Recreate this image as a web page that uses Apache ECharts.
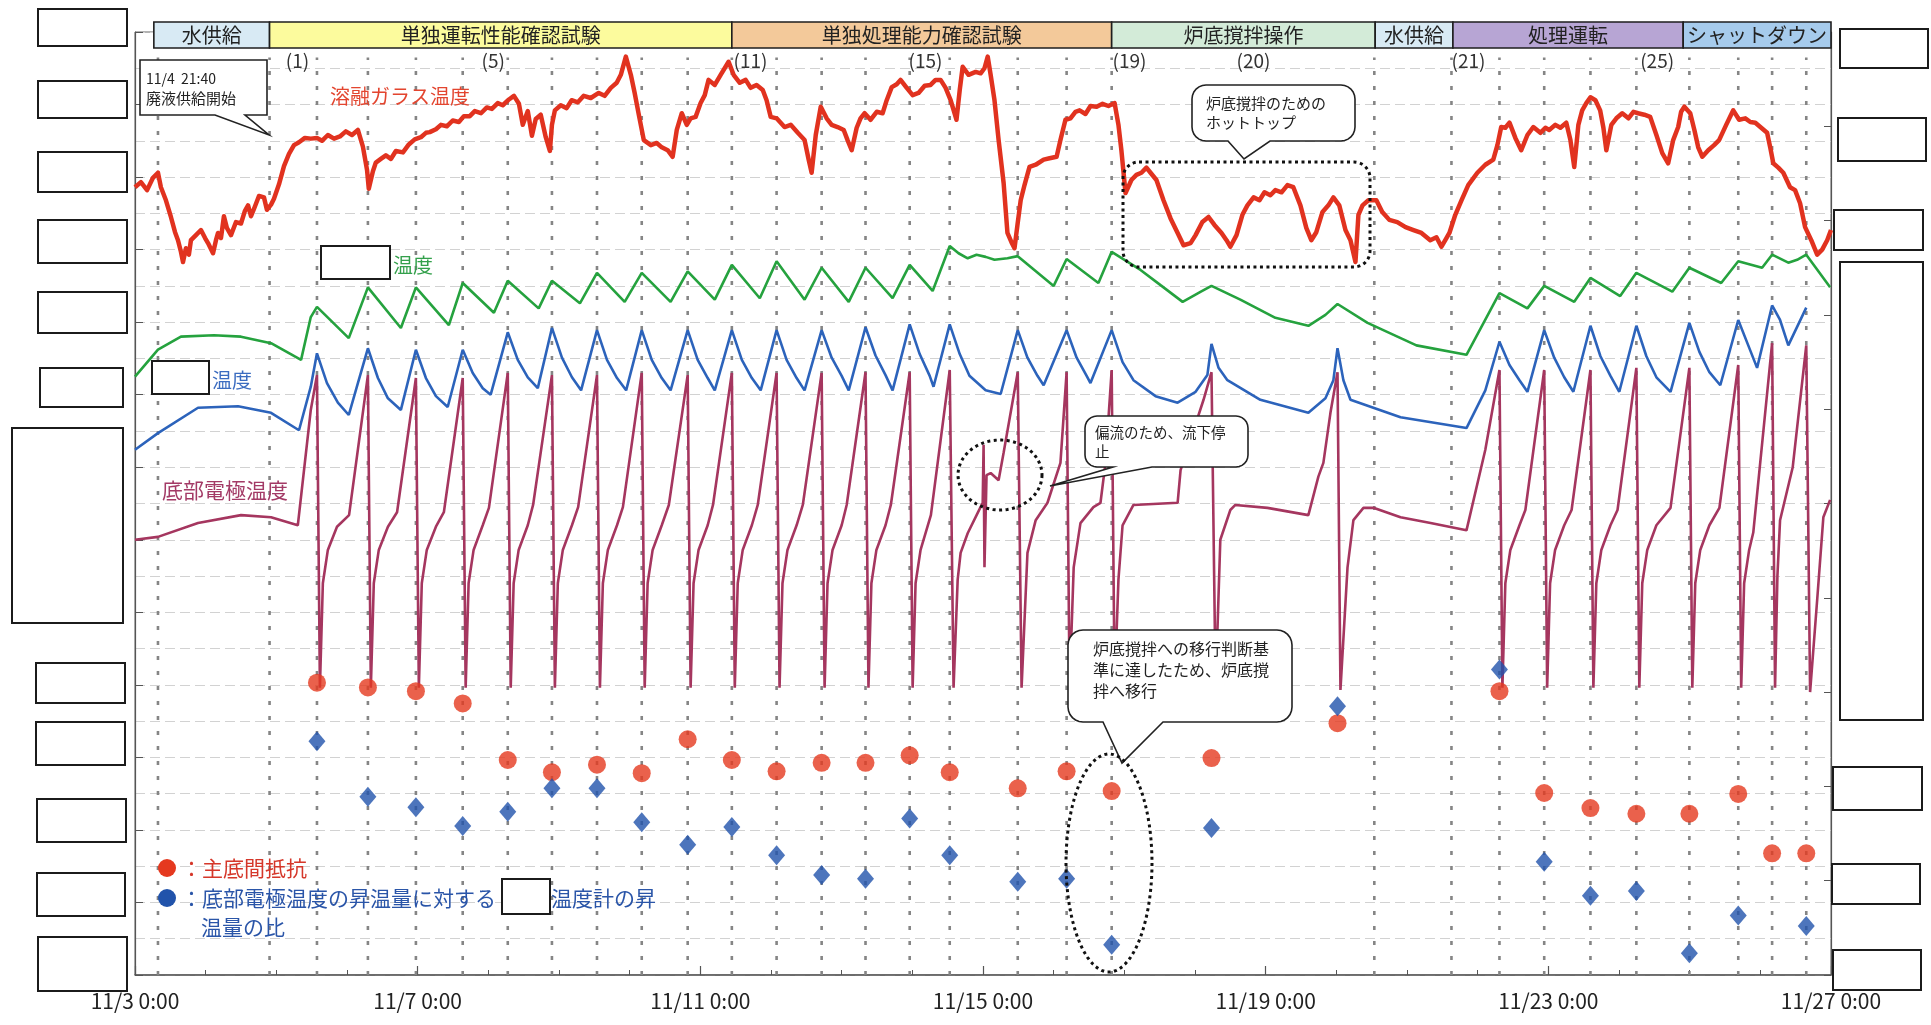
<!DOCTYPE html>
<html lang="ja">
<head>
<meta charset="utf-8">
<title>溶融ガラス温度・底部電極温度の推移</title>
<script src="https://cdn.jsdelivr.net/npm/echarts@6/dist/echarts.min.js"></script>
<style>
  html, body { margin: 0; padding: 0; background: #fff; }
  #chart { width: 1931px; height: 1025px; }
</style>
</head>
<body>
<div id="chart"></div>
<script>
// ---- Data (x values are hours counted from 11/3 0:00) ----
const X_MAX_HOURS = 576;          // 11/27 0:00
const X_TICK_HOURS = 96;          // 4 days between date labels

const PHASE_NAMES = ['水供給', '単独運転性能確認試験', '単独処理能力確認試験', '炉底撹拌操作', '水供給', '処理運転', 'シャットダウン'];
const PHASE_START_H = [6.4, 45.7, 202.7, 331.7, 421.2, 447.6, 525.8];
const PHASE_END_H   = [45.7, 202.7, 331.7, 421.2, 447.6, 525.8, 576];

const RUN_LABELS = ['(1)', '(5)', '(11)', '(15)', '(19)', '(20)', '(21)', '(25)'];
const RUN_LABEL_H = [51.2, 117.7, 203.3, 262.7, 332.0, 374.1, 447.1, 511.2];

// vertical guide lines (feed start and each pouring)
const GUIDE_HOURS = [7.8, 45.7, 61.8, 79.1, 95.4, 111.3, 126.6, 141.6, 156.9, 172.1, 187.7, 202.7,
  217.9, 233.2, 248.1, 263.1, 276.7, 299.8, 316.4, 331.7, 420.9, 447.1, 463.4, 478.6, 494.3,
  509.9, 527.9, 544.5, 556.0, 567.6];
const GUIDE_TOP = 126.5;

// pouring events with the two evaluated indices (right axis)
const EVENT_HOURS = [61.8, 79.1, 95.4, 111.3, 126.6, 141.6, 156.9, 172.1, 187.7, 202.7, 217.9, 233.2,
  248.1, 263.1, 276.7, 299.8, 316.4, 331.7, 365.6, 408.4, 463.4, 478.6, 494.3, 509.9, 527.9,
  544.5, 556.0, 567.6];
const MAIN_BOTTOM_RESISTANCE = [3.10, 3.05, 3.01, 2.88, 2.28, 2.15, 2.23, 2.14, 2.50, 2.28, 2.16, 2.25,
  2.25, 2.33, 2.15, 1.98, 2.16, 1.95, 2.30, 2.67, 3.01, 1.93, 1.77, 1.71, 1.71, 1.92, 1.29, 1.29];
const TEMP_RISE_RATIO = [2.48, 1.89, 1.78, 1.58, 1.73, 1.98, 1.98, 1.62, 1.38, 1.57, 1.27, 1.06,
  1.02, 1.66, 1.27, 0.99, 1.02, 0.32, 1.56, 2.85, 3.24, 1.20, 0.84, 0.89, 0.23, 0.63, null, 0.52];

// 溶融ガラス温度
const MELT_GLASS_TEMP = [[0,108.6],[2.0,109.3],[4.1,108.2],[6.1,109.9],[7.8,110.6],[8.8,108.6],[10.5,106.8],[12.2,104.5],[13.6,102.4],[14.6,101.3],[15.6,99.7],[16.3,98.3],[17.3,100.2],[18.3,99.3],[19.0,101.3],[20.7,102.0],[22.4,102.7],[23.8,101.6],[24.8,100.9],[26.5,99.5],[27.5,101.3],[28.2,102.3],[29.2,101.6],[30.2,104.6],[31.2,103.0],[32.6,102.0],[34.3,103.8],[36.0,103.6],[37.3,105.3],[38.4,106.1],[39.4,104.6],[40.4,105.6],[42.1,107.4],[43.8,107.2],[44.8,105.5],[46.2,106.2],[47.2,107.0],[48.9,109.0],[50.6,111.5],[52.3,113.2],[54.0,114.4],[55.7,114.8],[57.7,115.4],[59.7,115.3],[61.8,115.4],[63.5,115.0],[65.5,115.8],[67.6,115.3],[69.6,115.6],[71.6,116.3],[73.7,115.8],[75.7,116.5],[77.4,114.2],[78.8,111.0],[79.4,108.4],[80.8,110.8],[81.8,112.0],[83.5,112.5],[85.2,113.0],[86.9,112.5],[88.6,113.6],[91.0,113.4],[93.0,114.5],[95.0,115.2],[97.1,115.5],[98.8,116.1],[100.1,116.2],[102.2,116.6],[103.9,117.2],[105.9,117.0],[107.9,117.8],[110.0,117.6],[111.7,118.4],[113.7,118.4],[115.4,119.1],[117.5,118.8],[119.5,119.6],[121.2,119.4],[123.2,120.2],[124.9,119.9],[127.0,120.7],[128.7,121.2],[130.4,120.1],[131.7,117.2],[133.4,119.1],[134.8,115.7],[136.1,118.0],[137.8,118.6],[139.5,115.5],[140.9,113.6],[141.6,117.2],[142.6,119.2],[144.6,119.9],[146.6,119.5],[148.3,120.6],[150.4,120.3],[152.4,121.2],[154.8,120.9],[157.5,121.6],[159.5,121.2],[161.6,122.3],[163.6,123.0],[165.0,124.1],[166.7,126.6],[168.4,124.1],[169.7,121.6],[171.1,118.6],[172.8,115.1],[175.2,114.4],[177.2,114.7],[178.9,114.1],[180.9,113.7],[182.6,112.8],[184.0,116.5],[185.7,118.8],[187.4,117.2],[188.7,118.1],[190.4,118.3],[192.1,120.2],[193.5,121.3],[194.8,123.4],[196.9,122.7],[198.9,124.1],[201.6,125.9],[203.3,124.1],[205.4,123.0],[207.4,123.4],[209.1,122.3],[211.1,122.7],[213.2,122.0],[214.5,120.6],[215.9,118.3],[217.9,118.1],[220.6,116.9],[222.7,117.2],[225.1,116.1],[227.4,115.1],[228.8,112.4],[229.8,110.6],[231.2,115.8],[232.9,119.7],[234.9,118.1],[236.6,117.2],[238.6,116.9],[240.7,116.5],[242.0,115.1],[243.4,113.7],[245.1,116.8],[246.4,118.1],[247.8,118.8],[249.8,117.9],[251.9,119.0],[253.9,118.8],[255.3,120.6],[257.0,122.4],[258.7,122.8],[260.0,123.4],[262.1,122.3],[264.1,121.3],[266.1,121.6],[268.2,122.6],[270.2,122.7],[271.9,123.4],[273.6,123.4],[275.3,122.3],[277.0,120.6],[279.0,117.9],[280.1,122.0],[281.1,125.2],[283.1,124.1],[285.5,124.5],[287.2,124.3],[288.5,125.0],[289.6,126.6],[290.6,124.1],[291.9,120.6],[293.3,115.1],[295.0,109.2],[296.3,102.3],[297.7,101.0],[298.7,100.2],[299.7,103.4],[300.8,106.8],[302.1,108.9],[303.8,111.4],[305.9,111.7],[308.6,112.4],[310.6,112.6],[313.0,112.8],[314.3,115.1],[316.0,117.9],[317.7,118.1],[319.4,119.0],[320.8,119.2],[322.8,118.7],[324.5,119.8],[326.6,119.7],[328.6,120.1],[330.6,119.8],[332.7,120.2],[334.0,117.2],[335.0,113.7],[336.4,107.8],[338.4,109.6],[340.1,110.3],[341.8,110.6],[343.5,111.3],[344.9,110.6],[346.9,109.6],[349.3,106.8],[351.7,104.3],[354.1,102.3],[356.1,100.6],[358.5,100.9],[360.2,102.0],[362.5,103.8],[364.6,104.5],[366.6,103.4],[369.0,102.3],[370.7,101.3],[372.0,100.4],[374.1,102.0],[376.1,104.8],[377.8,106.1],[379.9,107.2],[381.9,106.8],[383.6,107.9],[385.6,107.5],[387.3,108.2],[389.4,107.9],[391.4,108.9],[393.4,108.6],[395.8,106.1],[397.8,103.0],[399.5,101.3],[401.2,102.4],[403.3,105.2],[405.3,106.1],[407.0,107.2],[409.0,106.1],[411.1,102.7],[412.8,101.3],[414.5,98.3],[415.5,104.8],[416.9,106.1],[418.9,106.8],[421.6,106.8],[423.6,105.2],[426.0,104.1],[428.7,103.8],[431.5,103.1],[434.2,102.7],[436.9,102.3],[439.9,101.3],[442.0,101.7],[443.7,100.4],[445.0,101.3],[446.4,102.3],[448.4,104.8],[450.5,106.8],[452.8,108.9],[455.9,110.6],[458.6,111.7],[461.3,112.4],[462.7,114.4],[464.0,116.9],[465.4,116.8],[466.8,117.5],[468.8,115.4],[470.8,113.7],[472.9,115.8],[474.9,116.9],[477.3,116.1],[479.0,116.8],[480.3,116.5],[482.4,117.2],[484.1,116.8],[486.1,117.5],[487.5,115.1],[488.8,111.4],[490.2,117.2],[491.5,119.2],[492.9,120.2],[494.3,121.0],[496.0,120.6],[497.6,119.2],[498.7,116.8],[499.7,113.7],[501.4,117.2],[503.1,118.1],[505.1,118.8],[507.2,118.1],[508.9,119.0],[510.5,118.8],[512.6,118.6],[514.6,118.3],[516.7,115.8],[518.7,113.3],[520.7,111.9],[522.4,115.1],[524.1,116.9],[525.1,119.0],[526.2,119.7],[528.2,118.8],[529.6,116.5],[530.9,114.1],[532.3,112.8],[534.3,113.7],[536.3,114.4],[538.0,115.1],[540.4,117.2],[542.8,119.2],[544.8,117.9],[546.9,118.1],[548.6,117.6],[550.3,117.5],[552.3,116.8],[554.3,116.1],[555.4,114.0],[556.4,111.9],[558.1,111.3],[559.8,110.6],[562.1,108.6],[563.8,108.2],[565.5,106.4],[567.2,103.1],[569.3,101.3],[571.3,99.3],[573.0,100.0],[574.7,101.3],[576.0,102.7]];

// 温度 (green trace)
const GREEN_TEMP = [[0,82.5],[7.8,86.2],[15.6,88.0],[26.8,88.2],[36.0,88.0],[46.2,87.1],[56.4,84.8],[59.7,90.7],[61.8,92.1],
  [72.6,87.8],[79.1,94.8],[90.3,89.2],[95.4,94.8],[106.6,89.6],[111.3,95.4],[121.9,91.3],[126.6,95.7],
  [137.1,91.9],[141.6,95.7],[151.1,92.6],[156.9,96.8],[166.3,92.8],[172.1,96.8],[181.9,92.8],[187.7,97.0],
  [196.9,93.1],[202.7,97.9],[212.2,93.3],[217.9,98.4],[227.4,93.1],[233.2,97.5],[242.4,92.8],[248.1,97.5],
  [257.3,93.3],[263.1,97.9],[270.9,94.3],[276.7,100.5],[279.7,99.5],[282.8,98.8],[285.8,99.3],[288.9,99.0],
  [291.9,98.6],[296.3,98.8],[299.8,99.1],[312.0,95.0],[316.4,98.7],[327.2,95.4],[331.7,99.7],
  [341.5,97.2],[348.3,95.1],[355.8,92.8],[362.0,94.2],[365.6,95.0],[375.4,93.1],[387.3,90.6],[398.5,89.5],
  [404.3,91.0],[408.4,92.5],[418.6,89.9],[435.2,86.8],[452.2,85.5],[457.6,89.6],[463.4,94.0],
  [472.9,91.9],[478.6,95.0],[488.8,92.8],[494.3,96.1],[504.4,93.6],[509.9,96.8],[522.1,94.2],[527.9,97.5],
  [538.7,95.4],[544.5,98.4],[552.6,97.5],[556.0,99.3],[561.5,98.2],[564.5,98.6],[567.6,99.3],[575.7,94.8]];

// 温度 (blue trace)
const BLUE_TEMP = [[0,72.4],[7.8,74.7],[21.4,78.2],[35.0,78.4],[46.2,77.5],[55.7,75.1],[59.7,81.1],[61.8,85.7],
  [65.2,81.6],[68.9,78.9],[72.6,77.2],[75.7,81.6],[79.1,86.4],[82.5,82.3],[85.9,79.5],[90.3,77.9],[95.4,86.2],
  [98.8,82.3],[102.2,79.8],[106.2,78.3],[111.3,86.2],[114.7,83.0],[118.1,80.9],[120.8,80.0],[126.6,88.6],
  [130.0,84.8],[133.4,82.4],[136.8,80.9],[141.6,89.2],[145.0,85.1],[148.4,82.4],[151.5,80.6],[156.9,88.9],
  [160.3,84.8],[163.7,82.3],[166.8,80.6],[172.1,88.9],[175.5,84.8],[178.9,82.3],[181.9,80.6],[187.7,88.9],
  [191.1,84.8],[194.5,82.3],[196.9,80.6],[202.7,88.9],[206.1,84.8],[209.5,82.3],[212.5,80.6],[217.9,88.9],
  [221.3,84.8],[224.7,82.3],[227.4,80.6],[233.2,88.9],[236.6,85.1],[240.0,82.6],[242.4,80.6],[248.1,89.3],
  [251.5,85.4],[254.9,82.7],[257.3,80.6],[263.1,89.7],[266.5,85.6],[269.9,82.6],[271.2,81.1],[276.7,89.7],
  [280.1,85.6],[283.4,82.6],[288.9,80.6],[294.0,80.1],[299.8,88.9],[303.1,85.1],[306.5,82.6],[308.6,81.3],[316.4,88.9],
  [319.8,85.1],[323.2,82.6],[324.5,81.6],[331.7,88.9],[335.4,84.5],[339.1,82.0],[346.6,79.8],[354.1,78.9],
  [360.2,80.4],[364.2,82.7],[365.6,87.0],[368.0,83.7],[371.0,82.0],[382.2,79.3],[398.5,77.5],[404.3,79.5],
  [407.0,82.0],[408.4,86.4],[410.4,82.0],[412.8,79.3],[429.8,76.9],[452.2,75.4],[458.6,80.6],[463.4,87.3],
  [466.8,84.1],[470.2,82.0],[472.9,80.4],[478.6,88.9],[482.0,85.1],[485.4,82.4],[488.5,80.4],[494.3,89.5],
  [497.7,85.3],[501.1,82.6],[504.1,80.4],[509.9,89.5],[513.3,85.3],[516.7,82.4],[521.5,80.4],[527.9,89.9],
  [531.3,85.9],[534.7,83.1],[538.4,81.3],[544.5,90.3],[547.9,86.8],[550.9,83.7],[556.0,92.3],
  [558.7,90.3],[561.5,86.8],[567.6,92.0]];

// 底部電極温度
const BOTTOM_ELECTRODE_TEMP = [[0,60.0],[7.8,60.4],[21.4,62.3],[36.0,63.4],[46.2,63.1],[55.3,62.0],[59.7,77.9],[61.8,82.7],
  [62.8,39.6],[63.8,54.0],[65.5,58.6],[68.6,61.8],[72.7,63.4],[79.1,82.7],
  [80.1,39.6],[81.1,54.0],[82.8,58.6],[85.9,61.8],[89.0,63.8],[95.4,82.3],
  [96.4,39.6],[97.4,54.0],[99.1,58.6],[102.2,61.8],[104.9,63.8],[111.3,82.3],
  [112.3,39.6],[113.3,54.0],[115.0,58.6],[118.1,62.0],[120.2,64.4],[126.6,83.0],
  [127.6,39.6],[128.6,54.0],[130.3,58.6],[133.4,62.0],[135.2,64.8],[141.6,82.7],
  [142.6,39.6],[143.6,54.0],[145.3,58.6],[148.4,62.0],[150.5,64.5],[156.9,82.7],
  [157.9,39.6],[158.9,54.0],[160.6,58.6],[163.7,62.0],[165.7,64.5],[172.1,83.0],
  [173.1,39.6],[174.1,54.0],[175.8,58.6],[178.9,62.0],[181.3,64.8],[187.7,82.7],
  [188.7,39.6],[189.7,54.0],[191.4,58.6],[194.5,62.0],[196.3,64.8],[202.7,83.0],
  [203.7,39.6],[204.7,54.0],[206.4,58.6],[209.5,62.0],[211.5,64.8],[217.9,83.0],
  [218.9,39.6],[219.9,54.0],[221.6,58.6],[224.7,62.0],[226.8,64.8],[233.2,83.0],
  [234.2,39.6],[235.2,54.0],[236.9,58.6],[240.0,62.0],[241.7,64.8],[248.1,83.1],
  [249.1,39.6],[250.1,54.0],[251.8,58.6],[254.9,62.0],[256.7,64.8],[263.1,83.1],
  [264.1,39.6],[265.1,54.0],[266.8,58.6],[270.3,63.4],[276.7,83.4],
  [278.0,39.6],[279.4,54.5],[280.4,58.2],[282.8,60.9],[286.2,63.7],[287.9,65.1],[288.2,73.1],[288.5,56.2],
  [289.2,68.9],[290.6,69.2],[293.3,68.2],[295.0,72.0],[299.8,83.1],
  [301.1,39.6],[303.1,58.2],[305.9,62.7],[309.9,65.1],[314.3,70.6],[316.4,83.1],
  [317.4,39.6],[318.8,56.2],[321.1,62.3],[325.5,64.5],[327.9,65.1],[329.6,70.6],[331.7,83.4],
  [332.7,39.6],[334.0,54.5],[335.4,62.0],[339.1,64.8],[354.1,65.1],[355.1,69.6],[362.9,79.3],[365.6,83.1],
  [367.0,39.6],[368.6,60.0],[372.0,64.1],[373.7,64.8],[384.6,64.4],[398.5,63.4],[401.9,68.7],[403.6,70.6],[406.0,77.5],[408.4,83.1],
  [409.4,39.3],[411.8,56.2],[413.8,62.7],[417.2,64.4],[420.6,64.4],[429.8,63.1],[440.0,62.3],[452.2,61.3],[458.6,72.4],[463.4,83.4],
  [464.4,39.6],[465.4,54.0],[467.1,58.6],[470.2,62.0],[472.2,64.1],[478.6,83.4],
  [479.6,39.6],[480.6,54.0],[482.3,58.6],[485.4,62.0],[487.9,64.1],[494.3,83.4],
  [495.3,39.6],[496.3,54.0],[498.0,58.6],[501.1,62.0],[503.5,64.1],[509.9,83.7],
  [510.9,39.6],[511.9,54.0],[513.6,58.6],[516.7,62.0],[521.5,64.4],[527.9,83.7],
  [528.9,39.6],[529.9,54.0],[531.6,58.6],[534.7,62.0],[538.1,64.4],[544.5,84.1],
  [545.5,39.6],[546.5,54.0],[548.2,58.6],[549.6,61.0],[556.0,87.1],
  [557.0,39.6],[557.8,55.0],[558.7,62.7],[563.0,70.0],[567.6,86.8],
  [568.9,39.0],[571.3,51.7],[573.4,63.1],[575.7,65.5]];

// ---- Drawing ----
const FONT = '"Noto Sans CJK JP", "Noto Sans", sans-serif';
const INK = '#222';
const chart = echarts.init(document.getElementById('chart'), null, { renderer: 'canvas' });

const option = {
  animation: false,
  backgroundColor: '#ffffff',
  grid: { left: 135, right: 100, top: 32, bottom: 50, show: true, borderColor: '#666', borderWidth: 1 },
  xAxis: {
    type: 'value', min: 0, max: X_MAX_HOURS, interval: X_TICK_HOURS,
    axisLine: { lineStyle: { color: '#555', width: 1.5 } },
    axisTick: { inside: true, length: 9, lineStyle: { color: '#555', width: 1.2 } },
    minorTick: { show: true, splitNumber: 4, length: 5, lineStyle: { color: '#555' } },
    axisLabel: {
      showMinLabel: true, showMaxLabel: true, margin: 16,
      fontSize: 21, fontFamily: FONT, color: INK,
      formatter: h => '11/' + (3 + Math.round(h / 24)) + ' 0:00'
    },
    splitLine: { show: false }
  },
  yAxis: [{
    type: 'value', min: 0, max: 130, interval: 10, position: 'left',
    axisLine: { show: true, lineStyle: { color: '#555', width: 1.2 } },
    axisTick: { show: true, inside: true, length: 8, lineStyle: { color: '#555' } },
    axisLabel: { show: false },
    minorTick: { show: false, splitNumber: 2 },
    splitLine: { show: true, lineStyle: { color: '#d2d2d2', width: 1, type: [10, 5] } },
    minorSplitLine: { show: true, lineStyle: { color: '#d2d2d2', width: 1, type: [10, 5] } }
  }, {
    type: 'value', min: 0, max: 10, interval: 1, position: 'right',
    axisLine: { show: true, lineStyle: { color: '#555', width: 1.2 } },
    axisTick: { show: true, inside: true, length: 7, lineStyle: { color: '#555' } },
    axisLabel: { show: false },
    splitLine: { show: false }
  }],
  series: [
    {
      name: 'guides', type: 'custom', silent: true, z: 1,
      data: GUIDE_HOURS.map(h => [h, 0]),
      encode: { x: 0, y: 1 },
      renderItem: (params, api) => {
        const h = api.value(0);
        const p0 = api.coord([h, 0]);
        const p1 = api.coord([h, GUIDE_TOP]);
        return {
          type: 'line',
          shape: { x1: p0[0], y1: p0[1], x2: p1[0], y2: p1[1] },
          style: { stroke: '#858585', lineWidth: 2.6, lineDash: [4, 11] }
        };
      }
    },
    { name: '溶融ガラス温度', type: 'line', data: MELT_GLASS_TEMP, symbol: 'none', z: 3,
      lineStyle: { color: '#e1321f', width: 4.5, join: 'round' } },
    { name: '温度', type: 'line', data: GREEN_TEMP, symbol: 'none', z: 3,
      lineStyle: { color: '#25a23e', width: 2.6 } },
    { name: '温度(B)', type: 'line', data: BLUE_TEMP, symbol: 'none', z: 3,
      lineStyle: { color: '#2c63bb', width: 2.6 } },
    { name: '底部電極温度', type: 'line', data: BOTTOM_ELECTRODE_TEMP, symbol: 'none', z: 3,
      lineStyle: { color: '#a5365f', width: 2.6 } },
    { name: '主底間抵抗', type: 'scatter', yAxisIndex: 1, z: 6,
      data: EVENT_HOURS.map((h, i) => [h, MAIN_BOTTOM_RESISTANCE[i]]),
      symbol: 'circle', symbolSize: 18, itemStyle: { color: '#e5391f' } },
    { name: '昇温量の比', type: 'scatter', yAxisIndex: 1, z: 6,
      data: EVENT_HOURS.map((h, i) => [h, TEMP_RISE_RATIO[i]]).filter(d => d[1] != null),
      symbol: 'diamond', symbolSize: [17, 20], itemStyle: { color: '#2153ab' } }
  ]
};
chart.setOption(option);

// ---- Annotations ----
const px = h => chart.convertToPixel({ xAxisIndex: 0 }, h);
const PHASE_FILL = ['#d8eaf4', '#fcfb9d', '#f3c99a', '#d3ebd8', '#d8eaf4', '#b7a5d4', '#a6cbec'];
const g = [];

function text(x, y, str, size, color, align) {
  g.push({
    type: 'text', x: x, y: y, z: 60,
    style: { text: str, font: size + 'px ' + FONT, fill: color,
      textAlign: align || 'left', align: align || 'left',
      textVerticalAlign: 'middle', verticalAlign: 'middle' }
  });
}
function box(x, y, w, h) {
  g.push({ type: 'rect', z: 70, shape: { x: x, y: y, width: w, height: h },
    style: { fill: '#fff', stroke: '#1b1b1b', lineWidth: 2 } });
}
function arcPts(cx, cy, rx, ry, a0, a1, n) {
  const p = [];
  for (let i = 0; i <= n; i++) {
    const a = a0 + (a1 - a0) * i / n;
    p.push([cx + rx * Math.cos(a), cy + ry * Math.sin(a)]);
  }
  return p;
}
function callout(x0, y0, x1, y1, r, bl, br, tx, ty) {
  const D = Math.PI / 180, P = [];
  if (r > 0) {
    P.push(...arcPts(x0 + r, y0 + r, r, r, 180 * D, 270 * D, 6));
    P.push(...arcPts(x1 - r, y0 + r, r, r, 270 * D, 360 * D, 6));
    P.push(...arcPts(x1 - r, y1 - r, r, r, 0, 90 * D, 6));
  } else {
    P.push([x0, y0], [x1, y0], [x1, y1]);
  }
  P.push([br, y1], [tx, ty], [bl, y1]);
  if (r > 0) P.push(...arcPts(x0 + r, y1 - r, r, r, 90 * D, 180 * D, 6));
  else P.push([x0, y1]);
  g.push({ type: 'polygon', z: 50, shape: { points: P },
    style: { fill: '#fff', stroke: '#222', lineWidth: 1.6 } });
}
function dottedEllipse(cx, cy, rx, ry) {
  g.push({ type: 'polygon', z: 55, shape: { points: arcPts(cx, cy, rx, ry, 0, Math.PI * 2, 90) },
    style: { fill: 'none', stroke: '#111', lineWidth: 3, lineDash: [3, 3.5] } });
}

// phase header
PHASE_NAMES.forEach((name, i) => {
  const x0 = px(PHASE_START_H[i]), x1 = px(PHASE_END_H[i]);
  g.push({ type: 'rect', z: 40, shape: { x: x0, y: 22, width: x1 - x0, height: 26 },
    style: { fill: PHASE_FILL[i], stroke: '#1e1e1e', lineWidth: 1.6 } });
  text((x0 + x1) / 2, 35, name, 20, INK, 'center');
});

// run numbers
RUN_LABELS.forEach((s, i) => text(px(RUN_LABEL_H[i]), 61, s, 19, '#333', 'left'));

// series captions
text(330, 96, '溶融ガラス温度', 20, '#e3452f');
text(393, 265, '温度', 20, '#33a04b');
text(212, 380, '温度', 20, '#3b6cc0');
text(162, 490, '底部電極温度', 21, '#a33a66');

// callouts
callout(140, 60, 267, 115, 0, 215, 245, 269, 135);
text(146, 79, '11/4  21:40', 14, INK);
text(146, 98, '廃液供給開始', 15, INK);

callout(1192, 85, 1355, 141, 14, 1228, 1270, 1244, 159);
text(1206, 103, '炉底撹拌のための', 15, INK);
text(1206, 122, 'ホットトップ', 15, INK);

callout(1085, 416, 1248, 467, 12, 1113, 1152, 1050, 486);
text(1095, 432, '偏流のため、流下停', 14.5, INK);
text(1095, 451, '止', 14.5, INK);

callout(1068, 630, 1292, 722, 15, 1103, 1163, 1122, 763);
text(1093, 649, '炉底撹拌への移行判断基', 16, INK);
text(1093, 670, '準に達したため、炉底撹', 16, INK);
text(1093, 691, '拌へ移行', 16, INK);

// highlighted regions
g.push({ type: 'rect', z: 55, shape: { x: 1123, y: 162, width: 247, height: 105, r: 16 },
  style: { fill: 'none', stroke: '#111', lineWidth: 3, lineDash: [3, 3.5] } });
dottedEllipse(1000, 475, 42, 35);
dottedEllipse(1109, 863, 43, 109);

// legend
g.push({ type: 'circle', z: 60, shape: { cx: 167, cy: 868, r: 9 }, style: { fill: '#e5391f' } });
g.push({ type: 'circle', z: 60, shape: { cx: 167, cy: 898, r: 9 }, style: { fill: '#2153ab' } });
text(181, 868, '：主底間抵抗', 21, '#d5372a');
text(181, 898, '：底部電極温度の昇温量に対する', 21, '#2a55a8');
text(551, 898, '温度計の昇', 21, '#2a55a8');
text(201, 927, '温量の比', 21, '#2a55a8');

// masked label boxes
[[38,9,89,37],[38,81,89,37],[38,152,89,40],[38,220,89,43],[38,292,89,41],[40,368,83,39],[12,428,111,195],
 [36,663,89,40],[36,722,89,43],[37,799,89,43],[37,873,88,43],[38,937,89,54],
 [1840,29,88,39],[1838,118,88,43],[1834,210,89,40],[1840,262,83,458],[1833,767,89,43],[1832,864,88,40],[1833,950,88,40],
 [321,246,69,33],[152,361,57,33],[502,879,48,35]].forEach(b => box(b[0], b[1], b[2], b[3]));

chart.setOption({ graphic: { elements: g } });
</script>
</body>
</html>
